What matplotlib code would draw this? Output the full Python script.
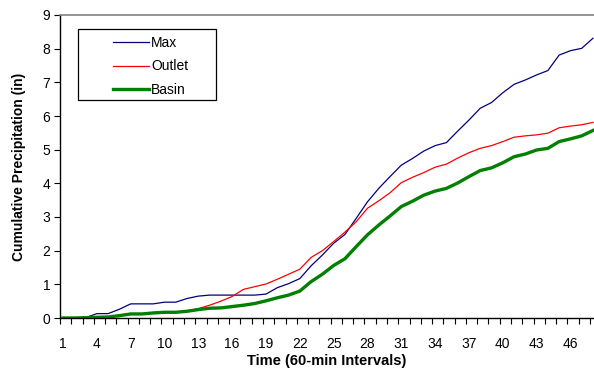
import matplotlib
matplotlib.use("Agg")
import matplotlib.pyplot as plt
from matplotlib.patches import Rectangle
import numpy as np

plt.rcParams['font.family'] = ['Liberation Sans', 'DejaVu Sans']

intervals = list(range(1, 49))
max_vals = [0, 0, 0.01, 0.13, 0.13, 0.26, 0.42, 0.42, 0.42, 0.47, 0.47, 0.58,
            0.65, 0.68, 0.68, 0.68, 0.68, 0.68, 0.71, 0.90, 1.02, 1.17, 1.55, 1.87,
            2.22, 2.48, 2.96, 3.45, 3.85, 4.20, 4.54, 4.74, 4.96, 5.12, 5.21, 5.55,
            5.88, 6.23, 6.40, 6.69, 6.94, 7.07, 7.22, 7.35, 7.81, 7.94, 8.01, 8.31]
outlet_vals = [0, 0, 0.01, 0.02, 0.03, 0.07, 0.12, 0.12, 0.15, 0.17, 0.17, 0.21,
               0.28, 0.38, 0.50, 0.64, 0.85, 0.93, 1.01, 1.15, 1.30, 1.45, 1.80, 2.00,
               2.27, 2.55, 2.86, 3.26, 3.48, 3.72, 4.02, 4.18, 4.32, 4.48, 4.57, 4.75,
               4.91, 5.04, 5.12, 5.24, 5.37, 5.41, 5.44, 5.49, 5.65, 5.70, 5.74, 5.81]
basin_vals = [0, 0, 0.01, 0.02, 0.03, 0.07, 0.12, 0.12, 0.15, 0.17, 0.17, 0.20,
              0.25, 0.29, 0.30, 0.34, 0.38, 0.43, 0.51, 0.60, 0.68, 0.80, 1.08, 1.30,
              1.56, 1.76, 2.12, 2.47, 2.76, 3.03, 3.31, 3.47, 3.65, 3.77, 3.85, 4.01,
              4.20, 4.38, 4.46, 4.61, 4.79, 4.87, 4.99, 5.04, 5.24, 5.32, 5.41, 5.57]
xtick_labels = [str(v) for v in range(1, 49, 3)]
ytick_vals = list(range(0, 10))

W, H = 594, 369
fig = plt.figure(figsize=(W / 100, H / 100), dpi=100)
L, R, T, B = 60, 594, 15, 318
ax = fig.add_axes([L / W, 1 - B / H, (R - L) / W, (B - T) / H])

ax.plot(intervals, max_vals, color='#000080', lw=0.9, label='Max')
ax.plot(intervals, outlet_vals, color='#FF0000', lw=0.9, label='Outlet')
ax.plot(intervals, basin_vals, color='#008000', lw=2.4, label='Basin')

ax.set_xlim(0.734, 48.09)
ax.set_ylim(0, 9)

ax.set_xticks(list(range(1, 49, 3)))
ax.set_xticklabels(xtick_labels)
ax.set_xticks([i - 0.27 for i in intervals], minor=True)
ax.tick_params(axis='x', which='major', length=0, pad=14, labelsize=10)
ax.tick_params(axis='x', which='minor', length=4, width=0.8, direction='out', color='black')
ax.set_yticks(ytick_vals)
ax.tick_params(axis='y', which='major', length=4, width=0.8, direction='out', labelsize=10, pad=3)

for s in ['left', 'bottom']:
    ax.spines[s].set_color('black')
    ax.spines[s].set_linewidth(1.0)
ax.spines['top'].set_color('#808080')
ax.spines['top'].set_linewidth(1.2)
ax.spines['right'].set_visible(False)

ax.set_xlabel('Time (60-min Intervals)', fontsize=10.5, fontweight='bold', labelpad=2)
ax.set_ylabel('Cumulative Precipitation (in)', fontsize=10, fontweight='bold', labelpad=12)

# legend frame
ax.add_patch(Rectangle((78 / W, 1 - 100 / H), (216 - 78) / W, (100 - 29) / H,
                       transform=fig.transFigure, fill=True, facecolor='white',
                       edgecolor='black', lw=0.9, zorder=5, clip_on=False))
leg = ax.legend(loc='upper left', bbox_to_anchor=((112 - 60) / (R - L) - 0.003, (318 - 33) / (B - T)),
                frameon=False, fontsize=10, handlelength=2.6, handletextpad=0.15,
                labelspacing=0.7, borderaxespad=0, borderpad=0.2)
leg.set_zorder(6)

fig.savefig('out.png', dpi=100, facecolor='white')
